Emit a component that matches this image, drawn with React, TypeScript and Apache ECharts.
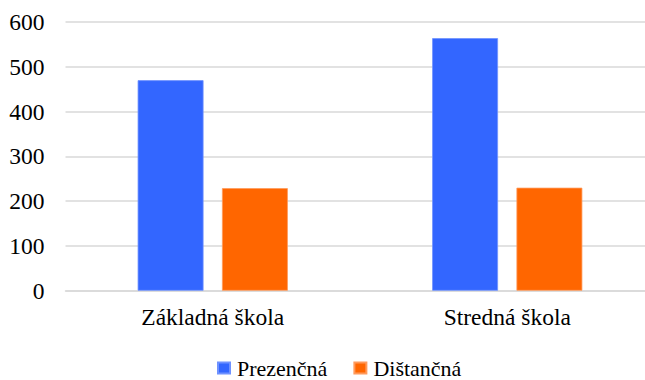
import React, { useEffect, useRef } from "react";
import * as echarts from "echarts";

const categories = ["Základná škola", "Stredná škola"];
const prezencna = [470, 564];
const distancna = [229, 230];
const seriesNames = ["Prezenčná", "Dištančná"];
const yTicks = { min: 0, max: 600, interval: 100 };

export default function App() {
  const ref = useRef<HTMLDivElement>(null);
  useEffect(() => {
    document.body.style.margin = "0";
    const chart = echarts.init(ref.current!, null, { renderer: "svg" });
    const font = "Times New Roman, Liberation Serif, DejaVu Serif, serif";
    chart.setOption({
      animation: false,
      backgroundColor: "#ffffff",
      textStyle: { fontFamily: font },
      grid: { left: 65.5, top: 22, width: 589, bottom: 89.3, containLabel: false, outerBoundsMode: "none" },
      legend: {
        left: 217,
        top: 357,
        padding: 0,
        itemWidth: 12,
        itemHeight: 11,
        itemGap: 26,
        icon: "rect",
        textStyle: { fontFamily: font, fontSize: 22, color: "#000", padding: [0, 0, 0, 2] },
        data: seriesNames,
      },
      xAxis: {
        type: "category",
        data: categories,
        axisLine: { show: true, lineStyle: { color: "#d9d9d9", width: 1.5 } },
        axisTick: { show: false },
        axisLabel: { fontFamily: font, fontSize: 23.5, color: "#000", margin: 14 },
      },
      yAxis: {
        type: "value",
        min: yTicks.min,
        max: yTicks.max,
        interval: yTicks.interval,
        axisLine: { show: false },
        axisTick: { show: false },
        splitLine: { lineStyle: { color: "#d9d9d9", width: 1.5 } },
        axisLabel: { fontFamily: font, fontSize: 23.5, color: "#000", margin: 21, padding: [3, 0, 0, 0] },
      },
      series: [
        {
          name: seriesNames[0],
          type: "bar",
          data: prezencna,
          barGap: "28%",
          barCategoryGap: "49%",
          itemStyle: { color: "#3366ff", borderColor: "#6f92ff", borderWidth: 0.8 },
        },
        {
          name: seriesNames[1],
          type: "bar",
          data: distancna,
          barGap: "28%",
          barCategoryGap: "49%",
          itemStyle: { color: "#ff6600", borderColor: "#ff9a5c", borderWidth: 0.8 },
        },
      ],
    });
    return () => chart.dispose();
  }, []);
  return <div ref={ref} style={{ width: 645, height: 380 }} />;
}
